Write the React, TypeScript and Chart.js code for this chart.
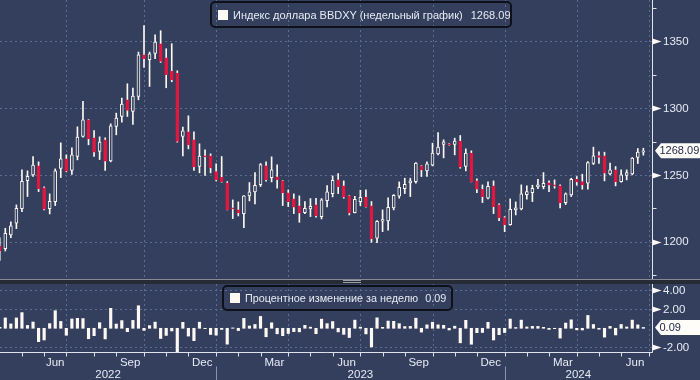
import React, { useEffect, useRef } from "react";
import { Chart, registerables } from "chart.js";

Chart.register(...registerables);

// ---- Data (weekly candles, BBDXY) ----
const opens = [
  1196.75, 1194.75, 1205, 1213.75, 1224.75, 1245.75, 1250, 1256.75, 1240.25, 1224.75,
  1230, 1254.75, 1262, 1253.25, 1263.75, 1278.75, 1291.25, 1277.75, 1267.5, 1276.25,
  1260.5, 1286.25, 1293.75, 1306.25, 1297.5, 1308.75, 1340, 1336.25, 1341, 1348.25,
  1337.75, 1327.5, 1326.25, 1278.75, 1282.25, 1276.25, 1256.25, 1264.25, 1264.25, 1252.5,
  1248.25, 1244, 1225.25, 1223.75, 1221, 1234.25, 1237.25, 1242.75, 1256.75, 1248,
  1248.5, 1245.5, 1236.5, 1232, 1226.75, 1221.75, 1224.5, 1227.5, 1218.75, 1230.75,
  1236, 1246.25, 1241.75, 1234.25, 1221.75, 1230, 1233.25, 1226.75, 1202.5, 1215.25,
  1215.5, 1225.25, 1234, 1239.75, 1244, 1245, 1256.75, 1253, 1257.25, 1265.75,
  1272.75, 1273.25, 1272.75, 1275.25, 1256.25, 1266.25, 1245.5, 1239.25, 1232.5, 1241.75,
  1227.5, 1218, 1212.75, 1223.75, 1224.5, 1235.25, 1236.75, 1241, 1241.25, 1244,
  1242.25, 1241.75, 1229.25, 1235, 1246.75, 1245, 1243.75, 1258.5, 1264.5, 1264.25,
  1250.75, 1253.75, 1245, 1249.5, 1250.75, 1263, 1267,
];
const highs = [
  1202.75, 1210, 1214.75, 1227.5, 1253.75, 1253, 1263.75, 1259.75, 1241, 1235.75,
  1254.5, 1274, 1265, 1270.25, 1286, 1305, 1291.5, 1283.25, 1278.5, 1277.75,
  1288.25, 1296.25, 1307.5, 1318.25, 1315, 1342, 1361.75, 1342, 1355, 1358,
  1344.5, 1348.25, 1328, 1285.75, 1294.25, 1282.25, 1273.25, 1268.75, 1265.75, 1258.25,
  1263.75, 1245, 1231.25, 1229.75, 1234.5, 1244.25, 1251.75, 1258.5, 1259.75, 1263.5,
  1257.5, 1245.75, 1238.75, 1235.75, 1234.25, 1230, 1232.25, 1232.5, 1232.25, 1242,
  1249.25, 1251, 1245.5, 1234.5, 1234, 1238.5, 1238.75, 1230, 1215.75, 1223.75,
  1232.75, 1235.25, 1244.75, 1247.5, 1247.5, 1259.25, 1257, 1259.75, 1273.75, 1281.75,
  1276.25, 1273.5, 1277.5, 1279.5, 1269.5, 1268, 1247, 1242.5, 1244.75, 1245.5,
  1228.25, 1218.75, 1232, 1229.75, 1242.5, 1241.75, 1242.25, 1246.75, 1251.75, 1245.5,
  1246.25, 1242.5, 1236.5, 1247.5, 1248.75, 1250.5, 1260, 1270.75, 1267.25, 1267,
  1258.75, 1256.25, 1253.75, 1253.75, 1263, 1269.75, 1270,
];
const lows = [
  1186, 1193, 1203, 1209.75, 1222.5, 1233.75, 1248.75, 1237.5, 1223.75, 1220.75,
  1227, 1248, 1252.25, 1250.25, 1261.25, 1278.25, 1272.5, 1263.75, 1261.5, 1253.25,
  1259.75, 1280, 1289.5, 1293.75, 1287.75, 1306.25, 1330.5, 1316.25, 1337, 1334.25,
  1315.25, 1319.75, 1274.5, 1264.25, 1269.5, 1253.25, 1251.5, 1249.5, 1251.5, 1245.5,
  1244.5, 1223.75, 1217.25, 1219.25, 1210.5, 1230.5, 1228.25, 1241.25, 1245.25, 1244.75,
  1240, 1227, 1226.25, 1221, 1214.5, 1221, 1218.75, 1218.25, 1217, 1226,
  1233.5, 1236, 1232.5, 1220, 1221.5, 1227, 1225.75, 1199.5, 1199.25, 1207.5,
  1208.5, 1223.75, 1232.5, 1236, 1233.75, 1243.75, 1248.75, 1248.75, 1256.75, 1265,
  1262.75, 1272.25, 1265, 1255, 1253, 1244.75, 1236.75, 1229.25, 1232, 1221,
  1215.75, 1207.5, 1212.25, 1220, 1223.75, 1231.75, 1230, 1239.75, 1239.5, 1237.5,
  1240, 1225.25, 1227.75, 1233.75, 1242.25, 1239.25, 1239.25, 1257.75, 1258.5, 1245.5,
  1250, 1241.75, 1244.5, 1246.25, 1250, 1258.5, 1264.75,
];
const closes = [
  1193.25, 1206.25, 1211.75, 1225, 1245.25, 1249, 1257.25, 1239.5, 1224.25, 1230.25,
  1253, 1262, 1252.75, 1265, 1278.25, 1291.25, 1277, 1267, 1274.5, 1260.25,
  1286.75, 1292.5, 1303, 1298.25, 1309, 1340, 1337, 1340.75, 1349.5, 1335,
  1325, 1321.25, 1275, 1283, 1272.5, 1256, 1264, 1263.5, 1255.25, 1246.25,
  1244.75, 1224, 1224.5, 1221.5, 1234.25, 1237.25, 1242.25, 1257.75, 1246.5, 1253.75,
  1246.5, 1236.75, 1230, 1225.75, 1221.25, 1225, 1226.5, 1219.5, 1231.25, 1237.25,
  1246, 1241.25, 1233.25, 1221.25, 1231.75, 1233.25, 1226, 1202, 1215.25, 1216.5,
  1225.75, 1234.75, 1240.75, 1243, 1245.5, 1258.75, 1253.75, 1258.25, 1266.25, 1270.75,
  1274.75, 1272.5, 1275.25, 1255.75, 1266.25, 1245, 1239.25, 1233.75, 1241.5, 1226.25,
  1218, 1212.5, 1224.25, 1225.25, 1235.75, 1237.5, 1240, 1242.5, 1243.75, 1242.25,
  1241.75, 1229, 1235.75, 1246.75, 1244.75, 1242.5, 1259.25, 1264.25, 1263, 1251.25,
  1253.75, 1245, 1250, 1251.75, 1262.5, 1267, 1268.09,
];
// weekly % change (lower panel)
const weeklyChange = [
  0.1, 1.09, 0.46, 1.09, 1.65, 0.3, 0.66, -1.41, -1.23, 0.49,
  1.85, 0.72, -0.73, 0.98, 1.05, 1.02, -1.1, -0.78, 0.59, -1.12,
  2.1, 0.45, 0.81, -0.36, 0.83, 2.37, -0.22, 0.28, 0.65, -1.07,
  -0.75, -0.28, -3.5, 0.63, -0.82, -1.3, 0.64, -0.04, -0.65, -0.72,
  -0.12, -1.67, 0.04, -0.24, 1.04, 0.24, 0.4, 1.25, -0.89, 0.58,
  -0.58, -0.78, -0.55, -0.35, -0.37, 0.31, 0.12, -0.57, 0.96, 0.49,
  0.71, -0.38, -0.64, -0.97, 0.86, 0.12, -0.59, -1.96, 1.1, 0.1,
  0.76, 0.73, 0.49, 0.18, 0.2, 1.06, -0.4, 0.36, 0.64, 0.36,
  0.31, -0.18, 0.22, -1.53, 0.84, -1.68, -0.46, -0.44, 0.63, -1.23,
  -0.67, -0.45, 0.97, 0.08, 0.86, 0.14, 0.2, 0.2, 0.1, -0.12,
  -0.04, -1.03, 0.55, 0.89, -0.16, -0.18, 1.35, 0.4, -0.1, -0.93,
  0.2, -0.7, 0.4, 0.14, 0.86, 0.36, 0.09,
];

// axis structure (candle indices where months / quarters begin)
const monthStartIdx = [4, 8, 12, 17, 21, 26, 30, 34, 39, 43, 47, 52, 56, 60, 65, 69, 73, 78, 82, 86, 91, 95, 99, 104, 108, 112, 117];
const quarterStartIdx = [12, 26, 39, 52, 65, 78, 91, 104, 117];
const monthLabels = ["Jun", "Sep", "Dec", "Mar", "Jun", "Sep", "Dec", "Mar", "Jun"];
const monthLabelFrom = [8, 21, 34, 47, 60, 73, 86, 99, 112];
const monthLabelTo = [12, 26, 39, 52, 65, 78, 91, 104, 117];
const yearLabels = ["2022", "2023", "2024"];
const yearStartIdx = [null, 39, 91];
const priceTicks = [1200, 1250, 1300, 1350];
const priceMinorTicks = [1175, 1225, 1275, 1325, 1375];
const changeTicks = [4, 2, -2];
const changeTickLabels = ["4.00", "2.00", "-2.00"];

const mainTitle = "Индекс доллара BBDXY (недельный график)";
const subTitle = "Процентное изменение за неделю";
const lastPrice = "1268.09";
const lastChange = "0.09";

// ---- styles ----
const BG = "#343f5e";
const GRID = "#5c6c92";
const AXIS = "#dfe3ec";
const TEXT = "#e6ebf4";
const RED = "#e1173f";
const WHITE = "#fdf8f2";
const FONT = '"Liberation Sans", Arial, sans-serif';
const AXIS_FONT = `11.5px ${FONT}`;
const X_MIN = 0.045;
const X_MAX = 117.56;

function hline(ctx: CanvasRenderingContext2D, x1: number, x2: number, y: number) {
  ctx.beginPath();
  ctx.moveTo(x1, y);
  ctx.lineTo(x2, y);
  ctx.stroke();
}
function vline(ctx: CanvasRenderingContext2D, x: number, y1: number, y2: number) {
  ctx.beginPath();
  ctx.moveTo(x, y1);
  ctx.lineTo(x, y2);
  ctx.stroke();
}
function pennant(ctx: CanvasRenderingContext2D, x: number, y: number) {
  ctx.beginPath();
  ctx.moveTo(x, y - 3);
  ctx.lineTo(x + 9, y);
  ctx.lineTo(x, y + 3);
  ctx.closePath();
  ctx.fill();
}
function badge(ctx: CanvasRenderingContext2D, x: number, y: number, text: string) {
  ctx.save();
  ctx.fillStyle = "#fffdf8";
  ctx.beginPath();
  ctx.moveTo(x, y);
  ctx.lineTo(x + 6, y - 7.5);
  ctx.lineTo(700, y - 7.5);
  ctx.lineTo(700, y + 7.5);
  ctx.lineTo(x + 6, y + 7.5);
  ctx.closePath();
  ctx.fill();
  ctx.fillStyle = "#1e2448";
  ctx.font = `11px ${FONT}`;
  ctx.textAlign = "left";
  ctx.textBaseline = "middle";
  ctx.fillText(text, x + 4.5, y + 0.5);
  ctx.restore();
}

export default function App() {
  const mainRef = useRef<HTMLCanvasElement>(null);
  const subRef = useRef<HTMLCanvasElement>(null);

  useEffect(() => {
    const idx = closes.map((_, i) => i);
    const isDown = (i: number) => closes[i] < opens[i];

    const mainDecor = {
      id: "mainDecor",
      beforeDatasetsDraw(chart: any) {
        const { ctx, chartArea: a, scales } = chart;
        const x = scales.x, y = scales.y;
        ctx.save();
        ctx.strokeStyle = GRID;
        ctx.lineWidth = 1;
        ctx.setLineDash([2, 3]);
        priceTicks.forEach((v) => hline(ctx, a.left, a.right, Math.round(y.getPixelForValue(v)) + 0.5));
        quarterStartIdx.forEach((i) => vline(ctx, Math.round(x.getPixelForValue(i)) + 0.5, a.top, a.bottom));
        ctx.restore();
      },
      afterDraw(chart: any) {
        const { ctx, chartArea: a, scales } = chart;
        const y = scales.y;
        ctx.save();
        ctx.strokeStyle = AXIS;
        ctx.lineWidth = 1;
        const ax = Math.round(a.right) + 0.5;
        vline(ctx, ax, a.top, a.bottom);
        priceMinorTicks.forEach((v) => hline(ctx, ax, ax + 4, Math.round(y.getPixelForValue(v)) + 0.5));
        ctx.fillStyle = WHITE;
        priceTicks.forEach((v) => pennant(ctx, ax, Math.round(y.getPixelForValue(v)) + 0.5));
        ctx.fillStyle = TEXT;
        ctx.font = AXIS_FONT;
        ctx.textAlign = "left";
        ctx.textBaseline = "middle";
        priceTicks.forEach((v) => ctx.fillText(String(v), ax + 10.5, y.getPixelForValue(v) + 0.5));
        ctx.restore();
        badge(ctx, ax + 2.5, y.getPixelForValue(closes[closes.length - 1]), lastPrice);
      },
    };

    const subDecor = {
      id: "subDecor",
      beforeDatasetsDraw(chart: any) {
        const { ctx, chartArea: a, scales } = chart;
        const x = scales.x, y = scales.y;
        ctx.save();
        ctx.strokeStyle = GRID;
        ctx.lineWidth = 1;
        ctx.setLineDash([2, 3]);
        changeTicks.forEach((v) => hline(ctx, a.left, a.right, Math.round(y.getPixelForValue(v)) + 0.5));
        quarterStartIdx.forEach((i) => vline(ctx, Math.round(x.getPixelForValue(i)) + 0.5, a.top, a.bottom));
        ctx.restore();
      },
      afterDraw(chart: any) {
        const { ctx, chartArea: a, scales } = chart;
        const x = scales.x, y = scales.y;
        ctx.save();
        ctx.strokeStyle = AXIS;
        ctx.lineWidth = 1;
        const ax = Math.round(a.right) + 0.5;
        const by = Math.round(a.bottom) - 0.5;
        vline(ctx, ax, a.top, by);
        hline(ctx, 0, ax, by);
        monthStartIdx.forEach((i) => {
          const px = Math.round(x.getPixelForValue(i)) + 0.5;
          if (px <= ax) vline(ctx, px, by, by + 4);
        });
        ctx.fillStyle = WHITE;
        changeTicks.forEach((v) => pennant(ctx, ax, Math.round(y.getPixelForValue(v)) + 0.5));
        ctx.fillStyle = TEXT;
        ctx.font = AXIS_FONT;
        ctx.textAlign = "left";
        ctx.textBaseline = "middle";
        changeTicks.forEach((v, k) => ctx.fillText(changeTickLabels[k], ax + 10.5, y.getPixelForValue(v) + 0.5));
        // month labels
        ctx.textAlign = "center";
        monthLabels.forEach((m, k) => {
          const cx = (x.getPixelForValue(monthLabelFrom[k]) + x.getPixelForValue(monthLabelTo[k])) / 2;
          ctx.fillText(m, cx, by + 10);
        });
        // year labels + separators
        const yStarts = yearStartIdx.map((s) => (s === null ? a.left : x.getPixelForValue(s)));
        yearLabels.forEach((yl, k) => {
          const from = yStarts[k];
          const to = k + 1 < yStarts.length ? yStarts[k + 1] : a.right;
          ctx.fillText(yl, (from + to) / 2, by + 22);
        });
        ctx.strokeStyle = "#8d93a3";
        yearStartIdx.forEach((s) => {
          if (s !== null) vline(ctx, Math.round(x.getPixelForValue(s)) + 0.5, by + 14, chart.height);
        });
        ctx.restore();
        badge(ctx, ax + 2.5, y.getPixelForValue(weeklyChange[weeklyChange.length - 1]), lastChange);
      },
    };

    const mainChart = new Chart(mainRef.current as HTMLCanvasElement, {
      type: "bar",
      data: {
        datasets: [
          {
            label: "body",
            data: idx.map((i) => ({ x: i, y: [opens[i], closes[i]] })) as any,
            backgroundColor: idx.map((i) => (isDown(i) ? RED : BG)),
            borderColor: idx.map((i) => (isDown(i) ? RED : WHITE)),
            borderWidth: 1,
            borderSkipped: false,
            barThickness: 3,
            minBarLength: 1,
            grouped: false,
            order: 0,
          } as any,
          {
            label: "wick",
            data: idx.map((i) => ({ x: i, y: [lows[i], highs[i]] })) as any,
            backgroundColor: WHITE,
            borderWidth: 0,
            barThickness: 1,
            grouped: false,
            order: 1,
          } as any,
        ],
      },
      options: {
        responsive: false,
        animation: false,
        devicePixelRatio: 1,
        events: [],
        layout: { padding: { left: 0, right: 48, top: 0, bottom: 0 } },
        plugins: { legend: { display: false }, tooltip: { enabled: false } },
        scales: {
          x: { type: "linear", display: false, min: X_MIN, max: X_MAX, offset: false },
          y: { type: "linear", display: false, min: 1172, max: 1381 },
        },
      } as any,
      plugins: [mainDecor],
    });

    const subChart = new Chart(subRef.current as HTMLCanvasElement, {
      type: "bar",
      data: {
        datasets: [
          {
            label: "change",
            data: idx.map((i) => ({ x: i, y: weeklyChange[i] })) as any,
            backgroundColor: WHITE,
            borderWidth: 0,
            barThickness: 2.5,
            grouped: false,
          } as any,
        ],
      },
      options: {
        responsive: false,
        animation: false,
        devicePixelRatio: 1,
        events: [],
        layout: { padding: { left: 0, right: 48, top: 0, bottom: 27 } },
        plugins: { legend: { display: false }, tooltip: { enabled: false } },
        scales: {
          x: { type: "linear", display: false, min: X_MIN, max: X_MAX, offset: false },
          y: { type: "linear", display: false, min: -2.6, max: 4.66 },
        },
      } as any,
      plugins: [subDecor],
    });

    return () => {
      mainChart.destroy();
      subChart.destroy();
    };
  }, []);

  const legendBox: React.CSSProperties = {
    position: "absolute",
    boxSizing: "border-box",
    border: "2px solid #0e1119",
    borderRadius: 5,
    display: "flex",
    alignItems: "center",
    color: TEXT,
    fontFamily: FONT,
    whiteSpace: "nowrap",
    overflow: "hidden",
  };
  const square: React.CSSProperties = {
    width: 10,
    height: 10,
    background: WHITE,
    flex: "none",
  };

  return (
    <div
      style={{
        position: "fixed",
        left: 0,
        top: 0,
        width: 700,
        height: 380,
        background: BG,
        overflow: "hidden",
      }}
    >
      <canvas ref={mainRef} width={700} height={279} style={{ position: "absolute", left: 0, top: 0, display: "block" }} />
      <div style={{ position: "absolute", left: 0, top: 279, width: 700, height: 1, background: "#858a95" }} />
      <div style={{ position: "absolute", left: 0, top: 280, width: 700, height: 4, background: "#262b36" }} />
      <div style={{ position: "absolute", left: 343, top: 280, width: 18, height: 1, background: "#9aa0ab" }} />
      <div style={{ position: "absolute", left: 343, top: 282, width: 18, height: 1, background: "#9aa0ab" }} />
      <canvas ref={subRef} width={700} height={96} style={{ position: "absolute", left: 0, top: 284, display: "block" }} />

      <div style={{ ...legendBox, left: 210, top: 1, width: 302, height: 27, paddingLeft: 6, fontSize: 11 }}>
        <div style={square} />
        <span style={{ marginLeft: 5 }}>{mainTitle}</span>
        <span style={{ marginLeft: 8 }}>{lastPrice}</span>
      </div>
      <div style={{ ...legendBox, left: 222, top: 285, width: 231, height: 26, paddingLeft: 6, fontSize: 10.8 }}>
        <div style={square} />
        <span style={{ marginLeft: 5 }}>{subTitle}</span>
        <span style={{ marginLeft: 7 }}>{lastChange}</span>
      </div>
    </div>
  );
}
